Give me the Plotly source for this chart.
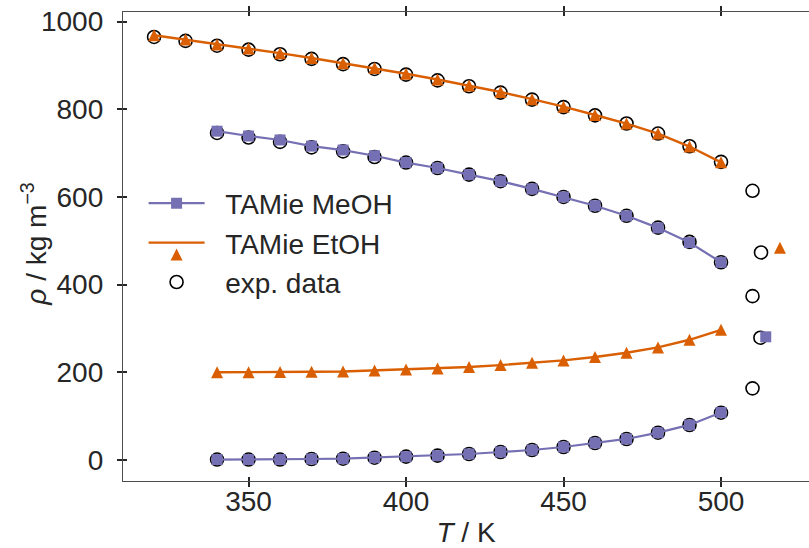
import plotly.graph_objects as go

# ---- data -------------------------------------------------------------
# temperatures (K)
T_liq_et = [320, 330, 340, 350, 360, 370, 380, 390, 400, 410,
            420, 430, 440, 450, 460, 470, 480, 490, 500]
T_sat = [340, 350, 360, 370, 380, 390, 400, 410, 420,
         430, 440, 450, 460, 470, 480, 490, 500]

# TAMie MeOH model (kg/m^3)
meoh_liq = [750, 739, 730, 716, 707, 694, 678.5, 666, 651,
            636, 618.5, 600, 580, 557, 529.5, 496, 451]
meoh_vap = [1, 1, 1.2, 2.3, 3, 5.3, 7.6, 9.9, 13.7,
            18.2, 22.8, 29.6, 38.8, 48, 62.3, 80, 108.5]
meoh_crit_T = [514.2]
meoh_crit_rho = [281]

# TAMie EtOH model (kg/m^3)
etoh_liq = [969, 959, 948, 938.5, 928, 917, 905, 894, 881, 868,
            854, 839.5, 823, 806, 787, 767.5, 744.5, 715, 679]
etoh_vap = [200, 200, 200.6, 201.3, 202, 204.4, 206.6, 209, 212,
            216.5, 221.8, 227.2, 234.8, 244.6, 256.9, 274.2, 297]
etoh_crit_T = [518.7]
etoh_crit_rho = [484]

# experimental data (kg/m^3)
exp_liq_et = [965, 956, 945, 936, 925.5, 915, 903, 892, 879, 866,
              852.5, 838, 822, 805, 786, 767.5, 744.6, 715.7, 680]
exp_liq_me = [746, 735.5, 725.6, 713, 704, 691, 678.5, 666, 651,
              636, 618.5, 600, 580, 557, 530, 497.5, 451]
exp_vap_me = [1, 1, 1, 2.3, 3, 5.3, 7.6, 9.9, 13.7,
              18.2, 22.8, 29.6, 38.8, 47.9, 62.3, 79.8, 107.9]
exp_extra_T = [510, 512.7, 510, 512.5, 510]
exp_extra_rho = [614, 473.4, 373.8, 279, 163.4]

x_ticks = [350, 400, 450, 500]
y_ticks = [0, 200, 400, 600, 800, 1000]

# ---- styles -------------------------------------------------------------
PURPLE = "#7570b3"
ORANGE = "#d95f02"
INK = "#262626"
FONT = "Liberation Sans, Arial, sans-serif"
SIZE = 28
PAD = "\u00a0\u00a0"  # gap between legend glyph and label

fig = go.Figure()

# experimental points sit underneath the model markers
exp_T = T_liq_et + T_sat + T_sat + exp_extra_T
exp_rho = exp_liq_et + exp_liq_me + exp_vap_me + exp_extra_rho
fig.add_trace(go.Scatter(
    x=exp_T, y=exp_rho, mode="markers", name=PAD + "exp. data", legendrank=3,
    marker=dict(symbol="circle", size=13, color="rgba(0,0,0,0)",
                line=dict(color="black", width=1.6)),
))

# methanol: liquid branch, vapour branch, critical point
fig.add_trace(go.Scatter(
    x=T_sat + [None] + T_sat + [None] + meoh_crit_T,
    y=meoh_liq + [None] + meoh_vap + [None] + meoh_crit_rho,
    mode="lines+markers", name=PAD + "TAMie MeOH", legendrank=1,
    connectgaps=False,
    line=dict(color=PURPLE, width=2.2),
    marker=dict(symbol="square", size=11, color=PURPLE),
))

# ethanol: liquid branch, vapour branch, critical point
fig.add_trace(go.Scatter(
    x=T_liq_et + [None] + T_sat + [None] + etoh_crit_T,
    y=etoh_liq + [None] + etoh_vap + [None] + etoh_crit_rho,
    mode="lines+markers", name=PAD + "TAMie EtOH", legendrank=2,
    connectgaps=False,
    line=dict(color=ORANGE, width=2.4),
    marker=dict(symbol="arrow-down", angle=180, standoff=6, size=12,
                color=ORANGE, line=dict(width=0)),
))

# empty trace that carries the inner-tick overlay axes
fig.add_trace(go.Scatter(x=[], y=[], xaxis="x2", yaxis="y2",
                         showlegend=False, hoverinfo="skip"))

x_range = [310.14, 527.93]
y_range = [-47.9, 1021.9]

axis_common = dict(
    showgrid=False, zeroline=False, showline=True, automargin=False,
    linecolor="#4d4d4d", linewidth=1.3,
    tickcolor=INK, tickwidth=1.6,
    tickfont=dict(family=FONT, size=SIZE, color=INK),
)

fig.update_layout(
    width=809, height=548,
    margin=dict(l=123, r=0, t=12, b=67),
    paper_bgcolor="white", plot_bgcolor="white",
    font=dict(family=FONT, size=SIZE, color=INK),
    xaxis=dict(
        **axis_common, range=x_range, tickvals=x_ticks,
        ticks="outside", ticklen=5, mirror="allticks",
        ticklabelstandoff=-10,
        title=dict(text="<i>T</i> / K", standoff=16,
                   font=dict(family=FONT, size=SIZE, color=INK)),
    ),
    yaxis=dict(
        **axis_common, range=y_range, tickvals=y_ticks,
        ticks="outside", ticklen=5, ticklabelstandoff=8,
    ),
    xaxis2=dict(
        **axis_common, overlaying="x", matches="x", anchor="y2",
        tickvals=x_ticks, showticklabels=False,
        ticks="inside", ticklen=4, mirror="allticks",
    ),
    yaxis2=dict(
        **axis_common, overlaying="y", matches="y", anchor="x2",
        tickvals=y_ticks, showticklabels=False,
        ticks="inside", ticklen=4,
    ),
    legend=dict(
        x=0.03, y=0.645, xanchor="left", yanchor="top",
        bgcolor="rgba(0,0,0,0)", borderwidth=0,
        itemwidth=56,
        font=dict(family=FONT, size=SIZE, color=INK),
    ),
    annotations=[dict(
        text="<i>ρ</i> / kg m<sup>−3</sup>", textangle=-90,
        xref="paper", yref="paper", x=-0.129, y=0.505,
        xanchor="center", yanchor="middle", showarrow=False,
        font=dict(family=FONT, size=SIZE, color=INK),
    )],
    showlegend=True,
)

fig.write_html("out.html")
